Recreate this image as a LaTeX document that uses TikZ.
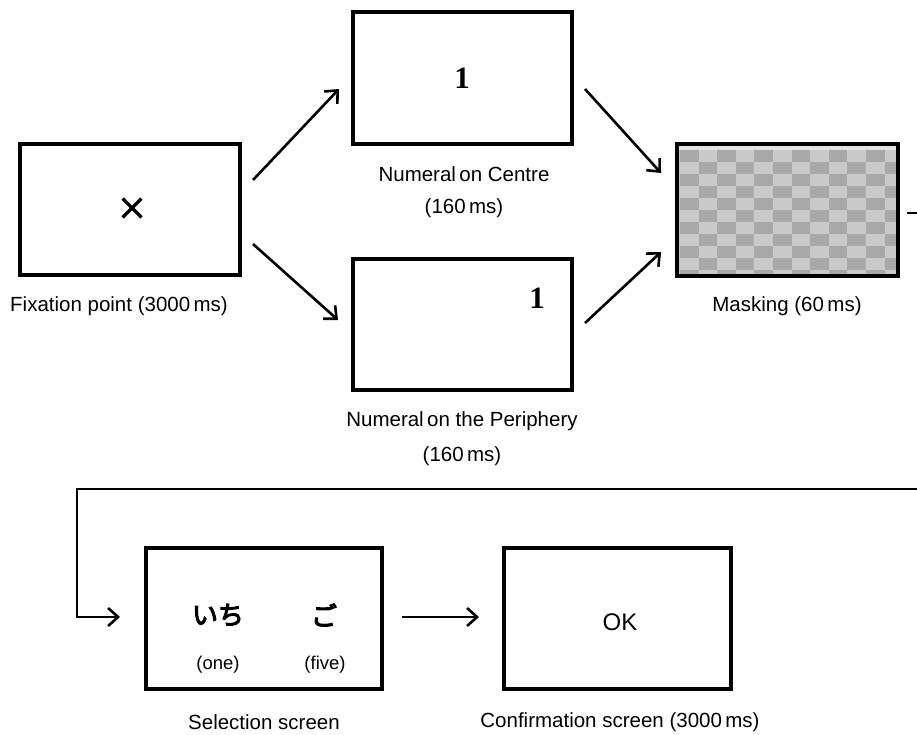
\documentclass[tikz,border=0pt]{standalone}
\usepackage{fontspec}
\setmainfont{Liberation Sans}
\newfontfamily\cjk[FakeBold=4]{Noto Sans CJK JP}
\newfontfamily\numfont{Liberation Serif}
\usetikzlibrary{arrows.meta}
\begin{document}
\begin{tikzpicture}[x=1pt,y=-1pt,
  screen/.style={draw=black,line width=3.5pt,inner sep=0pt,fill=white},
  lbl/.style={font=\fontsize{20.5}{24}\selectfont,inner sep=0pt},
  small/.style={font=\fontsize{18.5}{22}\selectfont,inner sep=0pt},
  arr/.style={line width=2.6pt,-{Straight Barb[length=10pt,width=18pt,line width=2.6pt]}},
  conn/.style={line width=2.6pt}]
\useasboundingbox (0,0) rectangle (917,734);
% screens
\node[screen,minimum width=220pt,minimum height=131pt] (fix) at (130,209.5) {};
\node[screen,minimum width=219pt,minimum height=132pt] (cen) at (462.5,78) {};
\node[screen,minimum width=219pt,minimum height=131pt] (per) at (462.5,324.5) {};
\node[screen,minimum width=236pt,minimum height=141pt] (sel) at (264,618.5) {};
\node[screen,minimum width=227pt,minimum height=141pt] (conf) at (617.5,618.5) {};
% masking checkerboard
\begin{scope}
  \clip (677,144) rectangle (898,276);
  \fill[gray!42] (677,144) rectangle (898,276);
  \foreach \i in {0,...,12} {
    \foreach \j in {0,...,11} {
      \pgfmathtruncatemacro{\myparity}{mod(\i+\j,2)}
      \ifnum\myparity=0
        \fill[gray!68] (680+\i*18.6,150+\j*12) rectangle ++(18.6,12);
      \fi
    }
  }
  \fill[gray!22] (677,144) rectangle (898,150);
\end{scope}
\node[draw=black,line width=3.5pt,inner sep=0pt,minimum width=221pt,minimum height=132pt] (mask) at (787.5,210) {};
% contents
\node[inner sep=0pt,font=\fontsize{48}{48}\selectfont] (x) at (133,211) {×};
\node[inner sep=0pt,font=\numfont\bfseries\fontsize{31}{31}\selectfont] (one1) at (462,78) {1};
\node[inner sep=0pt,font=\numfont\bfseries\fontsize{31}{31}\selectfont] (one2) at (537,298) {1};
\node[inner sep=0pt,font=\cjk\fontsize{26}{26}\selectfont] (ichi) at (218,615) {いち};
\node[inner sep=0pt,font=\cjk\fontsize{26}{26}\selectfont] (go) at (324,615) {ご};
\node[small] (eone) at (218,665) {(one)};
\node[small] (efive) at (325,665) {(five)};
\node[inner sep=0pt,font=\fontsize{24}{24}\selectfont] (ok) at (620,622) {OK};
% labels
\node[lbl] (lfix) at (119,306) {Fixation point (3000\,ms)};
\node[lbl] (lcen1) at (464,174) {Numeral\,on Centre};
\node[lbl] (lcen2) at (464,208) {(160\,ms)};
\node[lbl] (lper1) at (462,421) {Numeral\,on the Periphery};
\node[lbl] (lper2) at (462,456) {(160\,ms)};
\node[lbl] (lmask) at (787,306) {Masking (60\,ms)};
\node[lbl] (lsel) at (264,722) {Selection screen};
\node[lbl] (lconf) at (620,722) {Confirmation screen (3000\,ms)};
% connectors
\coordinate (f1) at (253,180); \coordinate (c1) at (339,89);
\coordinate (f2) at (253,244); \coordinate (p1) at (338,320);
\coordinate (c2) at (585,89); \coordinate (m1) at (661,173);
\coordinate (p2) at (585,323); \coordinate (m2) at (661,252);
\draw[arr] (f1) -- (c1);
\draw[arr] (f2) -- (p1);
\draw[arr] (c2) -- (m1);
\draw[arr] (p2) -- (m2);
\coordinate (s0) at (907,213); \coordinate (s1) at (917,213);
\draw[conn] (s0) -- (s1);
\coordinate (lr) at (917,489); \coordinate (ll) at (77,489);
\coordinate (lb) at (77,617); \coordinate (la) at (120,617);
\draw[arr] (lr) -- (ll) -- (lb) -- (la);
\coordinate (sa) at (402,617); \coordinate (ca) at (479,617);
\draw[arr] (sa) -- (ca);
\end{tikzpicture}
\end{document}
